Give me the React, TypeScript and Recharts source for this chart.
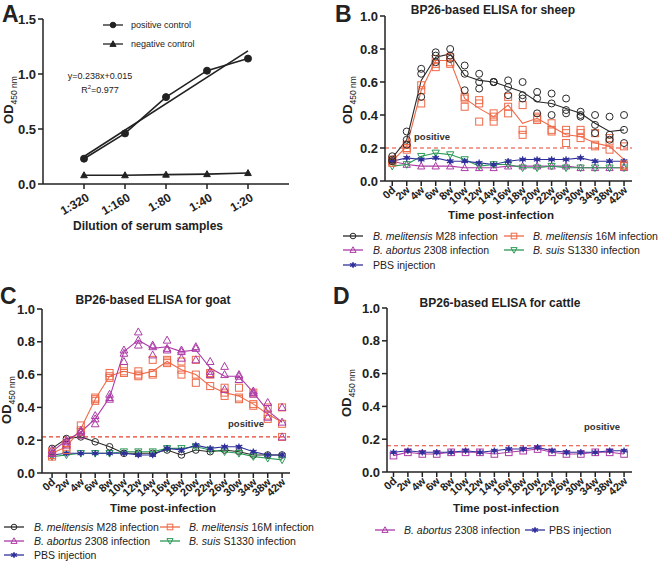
import React from "react";
import { ComposedChart, Line, Scatter, XAxis, YAxis, ReferenceLine } from "recharts";

const FONT = '"Liberation Sans", Arial, sans-serif';
const INK = "#222";

// colours
const C_M28 = "#2a2a2a";
const C_16M = "#ee6a48";
const C_ABO = "#ac3aa6";
const C_SUIS = "#2a9a55";
const C_PBS = "#30309c";
const C_POS = "#e8402e";

// ---- panel A
const dilutions = ["1:320", "1:160", "1:80", "1:40", "1:20"];
const positiveControl = [0.23, 0.46, 0.79, 1.03, 1.14];
const negativeControl = [0.08, 0.08, 0.085, 0.09, 0.1];
const fitLineEnds = [0.25, 1.21]; // y=0.238x+0.015 at 1:320 and 1:20

// ---- time axis for B-D
const timePoints = ["0d", "2w", "4w", "6w", "8w", "10w", "12w", "14w", "16w", "18w", "20w", "22w", "26w", "30w", "34w", "38w", "42w"];

// ---- B: sheep
const sheepM28 = [0.14, 0.25, 0.61, 0.75, 0.77, 0.64, 0.61, 0.6, 0.57, 0.54, 0.48, 0.47, 0.44, 0.41, 0.35, 0.3, 0.31];
const sheepM28Reps = [
  [0.15, 0.13, 0.12], [0.3, 0.25, 0.22], [0.68, 0.65, 0.51], [0.78, 0.76, 0.72], [0.8, 0.76, 0.74],
  [0.7, 0.65, 0.55], [0.65, 0.6, 0.56], [0.6, 0.6, 0.6], [0.61, 0.57, 0.52], [0.6, 0.52, 0.5],
  [0.54, 0.5, 0.41], [0.53, 0.47, 0.4], [0.5, 0.43, 0.41], [0.42, 0.4, 0.39], [0.4, 0.34, 0.29],
  [0.39, 0.28, 0.25], [0.4, 0.31, 0.23],
];
const sheep16M = [0.12, 0.21, 0.55, 0.73, 0.73, 0.5, 0.44, 0.39, 0.46, 0.35, 0.38, 0.33, 0.28, 0.27, 0.23, 0.21, 0.13];
const sheep16MReps = [
  [0.13, 0.12, 0.11], [0.22, 0.2, 0.19], [0.58, 0.55, 0.47], [0.74, 0.71, 0.69], [0.75, 0.72, 0.71],
  [0.51, 0.5, 0.45], [0.49, 0.47, 0.36], [0.41, 0.39, 0.36], [0.51, 0.45, 0.41], [0.46, 0.31, 0.28],
  [0.39, 0.38, 0.37], [0.35, 0.31, 0.3], [0.31, 0.29, 0.23], [0.31, 0.29, 0.26], [0.29, 0.22, 0.21],
  [0.26, 0.24, 0.19], [0.21, 0.1, 0.09],
];
const sheepAbortus = [0.12, 0.1, 0.09, 0.09, 0.09, 0.08, 0.08, 0.08, 0.09, 0.09, 0.09, 0.09, 0.09, 0.08, 0.08, 0.08, 0.08];
const sheepSuis = [0.09, 0.1, 0.15, 0.17, 0.16, 0.13, 0.09, 0.1, 0.1, 0.08, 0.08, 0.09, 0.08, 0.08, 0.08, 0.08, 0.08];
const sheepPBS = [0.12, 0.14, 0.13, 0.14, 0.12, 0.12, 0.11, 0.1, 0.12, 0.13, 0.13, 0.13, 0.13, 0.14, 0.12, 0.12, 0.12];
const sheepCutoff = 0.2;

// ---- C: goat
const goatM28 = [0.15, 0.21, 0.22, 0.19, 0.16, 0.12, 0.12, 0.12, 0.14, 0.11, 0.14, 0.13, 0.14, 0.13, 0.11, 0.11, 0.11];
const goat16M = [0.12, 0.16, 0.27, 0.45, 0.59, 0.62, 0.6, 0.62, 0.68, 0.63, 0.6, 0.53, 0.49, 0.47, 0.42, 0.36, 0.31];
const goat16MReps = [
  [0.13, 0.11, 0.1], [0.18, 0.16, 0.14], [0.29, 0.26, 0.25], [0.46, 0.45, 0.44], [0.61, 0.59, 0.58],
  [0.64, 0.62, 0.61], [0.62, 0.6, 0.59], [0.69, 0.61, 0.6], [0.69, 0.68, 0.67], [0.68, 0.63, 0.6],
  [0.69, 0.6, 0.55], [0.61, 0.6, 0.53], [0.52, 0.49, 0.47], [0.52, 0.46, 0.45], [0.49, 0.42, 0.41],
  [0.4, 0.35, 0.33], [0.4, 0.3, 0.22],
];
const goatAbortus = [0.13, 0.2, 0.25, 0.33, 0.46, 0.74, 0.81, 0.76, 0.77, 0.74, 0.75, 0.64, 0.59, 0.59, 0.49, 0.38, 0.31];
const goatAbortusReps = [
  [0.14, 0.12, 0.12], [0.2, 0.19, 0.17], [0.26, 0.25, 0.23], [0.35, 0.33, 0.3], [0.48, 0.46, 0.45],
  [0.75, 0.73, 0.68], [0.86, 0.81, 0.78], [0.78, 0.77, 0.72], [0.81, 0.76, 0.75], [0.75, 0.74, 0.7],
  [0.77, 0.76, 0.69], [0.68, 0.62, 0.6], [0.65, 0.6, 0.51], [0.6, 0.59, 0.57], [0.5, 0.49, 0.48],
  [0.43, 0.39, 0.34], [0.4, 0.31, 0.22],
];
const goatSuis = [0.1, 0.11, 0.12, 0.12, 0.12, 0.13, 0.13, 0.13, 0.15, 0.15, 0.16, 0.14, 0.13, 0.12, 0.1, 0.09, 0.08];
const goatPBS = [0.11, 0.12, 0.12, 0.12, 0.12, 0.12, 0.11, 0.11, 0.15, 0.14, 0.17, 0.15, 0.16, 0.16, 0.13, 0.11, 0.11];
const goatCutoff = 0.22;

// ---- D: cattle
const cattleAbortus = [0.1, 0.12, 0.11, 0.11, 0.12, 0.12, 0.12, 0.11, 0.12, 0.13, 0.14, 0.12, 0.11, 0.11, 0.12, 0.12, 0.11];
const cattlePBS = [0.12, 0.13, 0.12, 0.12, 0.12, 0.13, 0.12, 0.13, 0.14, 0.14, 0.15, 0.13, 0.12, 0.12, 0.12, 0.13, 0.13];
const cattleCutoff = 0.16;

function marker(kind: string, cx: number, cy: number, color: string, s = 3.5) {
  if (cx == null || cy == null) return <g />;
  if (kind === "circle") return <circle cx={cx} cy={cy} r={s} fill="none" stroke={color} strokeWidth={1} />;
  if (kind === "dot") return <circle cx={cx} cy={cy} r={s} fill={color} stroke={color} />;
  if (kind === "square")
    return <rect x={cx - s} y={cy - s} width={2 * s} height={2 * s} fill="none" stroke={color} strokeWidth={1} />;
  if (kind === "tri" || kind === "solidTri")
    return (
      <path
        d={`M${cx},${cy - s * 1.15}L${cx + s * 1.1},${cy + s * 0.85}L${cx - s * 1.1},${cy + s * 0.85}Z`}
        fill={kind === "solidTri" ? color : "none"}
        stroke={color}
        strokeWidth={1}
      />
    );
  if (kind === "invtri")
    return (
      <path
        d={`M${cx},${cy + s * 1.15}L${cx + s * 1.1},${cy - s * 0.85}L${cx - s * 1.1},${cy - s * 0.85}Z`}
        fill="none"
        stroke={color}
        strokeWidth={1}
      />
    );
  // star
  const r = s * 1.1;
  return (
    <g>
      <circle cx={cx} cy={cy} r={s * 0.7} fill={color} />
      <path
        d={`M${cx},${cy - r}L${cx},${cy + r}M${cx - r},${cy - r * 0.5}L${cx + r},${cy + r * 0.5}M${cx - r},${cy + r * 0.5}L${cx + r},${cy - r * 0.5}`}
        stroke={color}
        strokeWidth={1.2}
      />
    </g>
  );
}

type Series = { key: string; color: string; kind: string; means: number[]; reps?: number[][] };

const TimeTick = (p: any) => {
  const ax = p.x + 4;
  const ay = p.y + 3;
  return (
    <text x={ax} y={ay} transform={`rotate(-42 ${ax} ${ay})`} textAnchor="end" fontSize={11} fontWeight="bold" fill={INK} fontFamily={FONT}>
      {timePoints[p.payload.value]}
    </text>
  );
};

const DilutionTick = (p: any) => {
  const ax = p.x + 6;
  const ay = p.y + 9;
  return (
    <text x={ax} y={ay} transform={`rotate(-30 ${ax} ${ay})`} textAnchor="end" fontSize={12} fontWeight="bold" fill={INK} fontFamily={FONT}>
      {dilutions[p.payload.value - 1]}
    </text>
  );
};

const yTick = { fontSize: 13, fontWeight: "bold", fill: INK, fontFamily: FONT };

const Txt = ({ x, y, size = 12, bold = false, rot = 0, italic = false, color = INK, anchor = "center", children }: any) => (
  <div
    style={{
      position: "absolute",
      left: x,
      top: y,
      fontSize: size,
      fontWeight: bold ? "bold" : "normal",
      fontStyle: italic ? "italic" : "normal",
      color,
      whiteSpace: "nowrap",
      lineHeight: 1.15,
      transform: `translate(${anchor === "center" ? "-50%" : "0"}, -50%) rotate(${rot}deg)`,
    }}
  >
    {children}
  </div>
);

const ODLabel = ({ x, y }: any) => (
  <Txt x={x} y={y} rot={-90} bold size={13}>
    OD<sub style={{ fontSize: 8.5, fontWeight: "normal" }}>450 nm</sub>
  </Txt>
);

const LegendItem = ({ x, y, color, kind, w = 20, gap = 8, children, size = 10.5 }: any) => (
  <div style={{ position: "absolute", left: x, top: y - 6, height: 12, display: "flex", alignItems: "center", whiteSpace: "nowrap", fontSize: size, color: INK }}>
    <svg width={w} height={10} style={{ marginRight: gap }}>
      <line x1={0} y1={5} x2={w} y2={5} stroke={color} strokeWidth={1.3} />
      {marker(kind, w / 2, 5, color, 2.8)}
    </svg>
    <span>{children}</span>
  </div>
);

const TimePanel = ({ left, top, yw, mt, mr, mb, domain, series, cutoff }: any) => (
  <div style={{ position: "absolute", left, top }}>
    <ComposedChart width={330} height={230} margin={{ top: mt, right: mr, bottom: mb, left: 0 }}>
      <XAxis
        type="number"
        dataKey="x"
        domain={domain}
        ticks={timePoints.map((_, i) => i)}
        interval={0}
        allowDataOverflow
        height={30}
        stroke={INK}
        strokeWidth={1.5}
        tickSize={5}
        tick={<TimeTick />}
      />
      <YAxis
        type="number"
        dataKey="y"
        domain={[0, 1]}
        ticks={[0, 0.2, 0.4, 0.6, 0.8, 1]}
        interval={0}
        width={yw}
        stroke={INK}
        strokeWidth={1.5}
        tickSize={5}
        tick={yTick}
        tickFormatter={(v: number) => v.toFixed(1)}
      />
      <ReferenceLine y={cutoff} stroke={C_POS} strokeDasharray="4 3" strokeWidth={1.2} />
      {series.map((s: Series) => (
        <Line
          key={s.key}
          data={s.means.map((v, i) => ({ x: i, y: v }))}
          dataKey="y"
          stroke={s.color}
          strokeWidth={1.1}
          isAnimationActive={false}
          activeDot={false}
          dot={
            s.reps
              ? false
              : (p: any) => (
                  <g key={`${s.key}-${p.index}`}>{marker(s.kind, p.cx, p.cy, s.color, s.kind === "star" ? 3 : 3.3)}</g>
                )
          }
        />
      ))}
      {series
        .filter((s: Series) => s.reps)
        .map((s: Series) => (
          <Scatter
            key={s.key + "-reps"}
            data={(s.reps as number[][]).flatMap((r, i) => r.map((v) => ({ x: i, y: v })))}
            dataKey="y"
            isAnimationActive={false}
            shape={(p: any) => marker(s.kind, p.cx, p.cy, s.color, 3.5)}
          />
        ))}
    </ComposedChart>
  </div>
);

const sheepSeries: Series[] = [
  { key: "abo", color: C_ABO, kind: "tri", means: sheepAbortus },
  { key: "suis", color: C_SUIS, kind: "invtri", means: sheepSuis },
  { key: "pbs", color: C_PBS, kind: "star", means: sheepPBS },
  { key: "16m", color: C_16M, kind: "square", means: sheep16M, reps: sheep16MReps },
  { key: "m28", color: C_M28, kind: "circle", means: sheepM28, reps: sheepM28Reps },
];

const goatSeries: Series[] = [
  { key: "m28", color: C_M28, kind: "circle", means: goatM28 },
  { key: "suis", color: C_SUIS, kind: "invtri", means: goatSuis },
  { key: "pbs", color: C_PBS, kind: "star", means: goatPBS },
  { key: "16m", color: C_16M, kind: "square", means: goat16M, reps: goat16MReps },
  { key: "abo", color: C_ABO, kind: "tri", means: goatAbortus, reps: goatAbortusReps },
];

const cattleSeries: Series[] = [
  { key: "abo", color: C_ABO, kind: "square", means: cattleAbortus },
  { key: "pbs", color: C_PBS, kind: "star", means: cattlePBS },
];

const PanelA = () => {
  const pos = positiveControl.map((v, i) => ({ x: i + 1, y: v }));
  const neg = negativeControl.map((v, i) => ({ x: i + 1, y: v }));
  const fit = [
    { x: 1, y: fitLineEnds[0] },
    { x: dilutions.length, y: fitLineEnds[1] },
  ];
  return (
    <div style={{ position: "absolute", left: 0, top: 0 }}>
      <ComposedChart width={330} height={250} margin={{ top: 19, right: 41, bottom: 36, left: 0 }}>
        <XAxis
          type="number"
          dataKey="x"
          domain={[0, 6]}
          ticks={[1, 2, 3, 4, 5]}
          interval={0}
          height={30}
          stroke={INK}
          strokeWidth={1.5}
          tickSize={5}
          tick={<DilutionTick />}
        />
        <YAxis
          type="number"
          dataKey="y"
          domain={[0, 1.5]}
          ticks={[0, 0.5, 1, 1.5]}
          interval={0}
          width={43}
          stroke={INK}
          strokeWidth={1.5}
          tickSize={5}
          tick={yTick}
          tickFormatter={(v: number) => v.toFixed(1)}
        />
        <Line data={fit} dataKey="y" stroke={INK} strokeWidth={1.6} dot={false} activeDot={false} isAnimationActive={false} />
        <Line
          data={pos}
          dataKey="y"
          stroke={INK}
          strokeWidth={1.6}
          activeDot={false}
          isAnimationActive={false}
          dot={(p: any) => <g key={`p-${p.index}`}>{marker("dot", p.cx, p.cy, INK, 3.5)}</g>}
        />
        <Line
          data={neg}
          dataKey="y"
          stroke={INK}
          strokeWidth={1.6}
          activeDot={false}
          isAnimationActive={false}
          dot={(p: any) => <g key={`n-${p.index}`}>{marker("solidTri", p.cx, p.cy, INK, 3)}</g>}
        />
      </ComposedChart>
    </div>
  );
};

export default function App() {
  return (
    <div style={{ position: "absolute", left: 0, top: 0, width: 660, height: 564, background: "#fff", fontFamily: FONT, color: INK, overflow: "hidden" }}>
      {/* A */}
      <PanelA />
      <Txt x={2} y={14} size={23} bold anchor="left">A</Txt>
      <ODLabel x={11} y={100} />
      <LegendItem x={103} y={25} color={INK} kind="dot" gap={8} size={9}>positive control</LegendItem>
      <LegendItem x={103} y={44} color={INK} kind="solidTri" gap={8} size={9}>negative control</LegendItem>
      <Txt x={100} y={76} size={9}>y=0.238x+0.015</Txt>
      <Txt x={100} y={90} size={9}>
        R<sup style={{ fontSize: 6 }}>2</sup>=0.977
      </Txt>
      <Txt x={148} y={227} size={12} bold>Dilution of serum samples</Txt>

      {/* B */}
      <TimePanel left={330} top={0} yw={55} mt={16} mr={28} mb={19} domain={[-0.5, 16.55]} series={sheepSeries} cutoff={sheepCutoff} />
      <Txt x={335} y={14} size={23} bold anchor="left">B</Txt>
      <Txt x={493} y={11} size={12} bold>BP26-based ELISA for sheep</Txt>
      <ODLabel x={350} y={100} />
      <Txt x={432} y={137} size={9.5} bold color="#333">positive</Txt>
      <Txt x={501} y={216} size={11.5} bold>Time post-infection</Txt>
      <LegendItem x={343} y={236} color={C_M28} kind="circle" gap={10}><i>B. melitensis</i> M28 infection</LegendItem>
      <LegendItem x={504} y={236} color={C_16M} kind="square" gap={9}><i>B. melitensis</i> 16M infection</LegendItem>
      <LegendItem x={343} y={250} color={C_ABO} kind="tri" gap={10}><i>B. abortus</i> 2308 infection</LegendItem>
      <LegendItem x={504} y={250} color={C_SUIS} kind="invtri" gap={9}><i>B. suis</i> S1330 infection</LegendItem>
      <LegendItem x={343} y={265} color={C_PBS} kind="star" gap={10}>PBS injection</LegendItem>

      {/* C */}
      <TimePanel left={0} top={280} yw={42} mt={29} mr={40} mb={7} domain={[-0.7, 16.55]} series={goatSeries} cutoff={goatCutoff} />
      <Txt x={0} y={296} size={23} bold anchor="left">C</Txt>
      <Txt x={153} y={301} size={12} bold>BP26-based ELISA for goat</Txt>
      <ODLabel x={9} y={400} />
      <Txt x={246} y={424} size={9.5} bold color="#333">positive</Txt>
      <Txt x={163} y={509} size={11.5} bold>Time post-infection</Txt>
      <LegendItem x={4} y={527} color={C_M28} kind="circle" gap={10}><i>B. melitensis</i> M28 infection</LegendItem>
      <LegendItem x={160} y={527} color={C_16M} kind="square" gap={9}><i>B. melitensis</i> 16M infection</LegendItem>
      <LegendItem x={4} y={541} color={C_ABO} kind="tri" gap={10}><i>B. abortus</i> 2308 infection</LegendItem>
      <LegendItem x={160} y={541} color={C_SUIS} kind="invtri" gap={9}><i>B. suis</i> S1330 infection</LegendItem>
      <LegendItem x={4} y={555} color={C_PBS} kind="star" gap={10}>PBS injection</LegendItem>

      {/* D */}
      <TimePanel left={330} top={280} yw={57} mt={28} mr={28} mb={8} domain={[-0.45, 16.55]} series={cattleSeries} cutoff={cattleCutoff} />
      <Txt x={333} y={296} size={23} bold anchor="left">D</Txt>
      <Txt x={500} y={304} size={12} bold>BP26-based ELISA for cattle</Txt>
      <ODLabel x={349} y={393} />
      <Txt x={602} y={427} size={9.5} bold color="#333">positive</Txt>
      <Txt x={506} y={509} size={11.5} bold>Time post-infection</Txt>
      <LegendItem x={375} y={530} color={C_ABO} kind="tri" gap={9}><i>B. abortus</i> 2308 infection</LegendItem>
      <LegendItem x={525} y={530} color={C_PBS} kind="star" gap={4}>PBS injection</LegendItem>
    </div>
  );
}
